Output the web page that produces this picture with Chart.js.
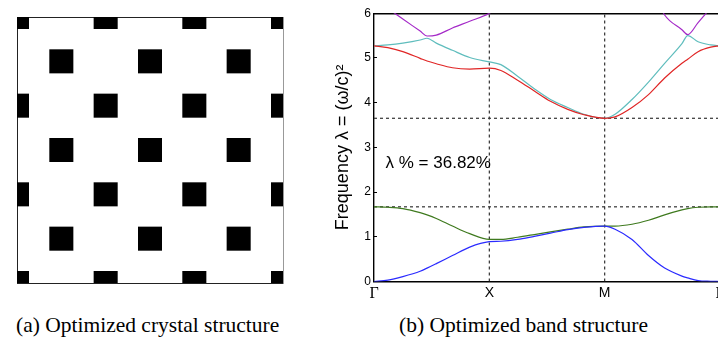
<!DOCTYPE html>
<html lang="en">
<head>
<meta charset="UTF-8">
<title>Optimized crystal and band structure</title>
<script src="https://cdn.jsdelivr.net/npm/chart.js"></script>
<style>
  body {
    margin: 0;
    width: 718px;
    height: 344px;
    overflow: hidden;
    background: #fff;
    position: relative;
  }
  #crystal { position: absolute; left: 0; top: 0; }
  #bands { position: absolute; left: 320px; top: 0; }
  .caption {
    position: absolute;
    top: 315px;
    font-family: 'Liberation Serif', serif;
    font-size: 21.5px;
    line-height: 1;
    color: #000;
    white-space: nowrap;
  }
</style>
</head>
<body>
<canvas id="crystal" width="300" height="300"></canvas>
<canvas id="bands" width="410" height="300"></canvas>
<div class="caption" style="left:16px">(a) Optimized crystal structure</div>
<div class="caption" style="left:399px">(b) Optimized band structure</div>

<script>
  // unit cell grid: square rods on a centred lattice (rows 0..6)
  const rowsY = [0, 1, 2, 3, 4, 5, 6];
  const evenRowCols = [0, 2, 4, 6];
  const oddRowCols = [1, 3, 5];

  // k path Γ - X - M - Γ
  const kPath = [0, 1, 2, 3];
  const kLabels = ['Γ', 'X', 'M', 'Γ'];
  const kSamples = [0, 0.12, 0.25, 0.4, 0.46, 0.54, 0.68, 0.83, 1, 1.1, 1.245, 1.39, 1.53, 1.68, 1.82, 2,
                    2.09, 2.237, 2.38, 2.52, 2.67, 2.72, 2.81, 2.92, 3];

  // eigenvalues λ = (ω/c)^2 for the first five bands
  const band1 = [0, 0.03, 0.11, 0.23, 0.30, 0.40, 0.58, 0.77, 0.89, 0.90, 0.94, 1.01, 1.08, 1.16, 1.21, 1.24,
                 1.17, 0.94, 0.58, 0.30, 0.12, 0.08, 0.02, 0.005, 0];
  const band2 = [1.67, 1.66, 1.63, 1.54, 1.49, 1.41, 1.24, 1.07, 0.94, 0.94, 0.99, 1.05, 1.11, 1.17, 1.22, 1.24,
                 1.24, 1.28, 1.37, 1.49, 1.60, 1.63, 1.66, 1.67, 1.67];
  const band3 = [5.27, 5.23, 5.14, 4.99, 4.93, 4.87, 4.78, 4.75, 4.77, 4.72, 4.50, 4.26, 4.03, 3.85, 3.73, 3.65,
                 3.68, 3.89, 4.18, 4.55, 4.88, 4.97, 5.14, 5.24, 5.27];
  const band4 = [5.27, 5.29, 5.33, 5.40, 5.44, 5.33, 5.17, 5.01, 4.91, 4.85, 4.59, 4.31, 4.07, 3.89, 3.74, 3.65,
                 3.74, 4.07, 4.46, 4.88, 5.32, 5.50, 5.36, 5.29, 5.27];
  const band5 = [6.33, 6.11, 5.87, 5.60, 5.49, 5.51, 5.67, 5.82, 6.00, 6.20, 6.50, 6.80, 7.00, 7.20, 7.30, 7.30,
                 7.25, 7.00, 6.70, 5.96, 5.63, 5.52, 5.79, 6.12, 6.36];
  const bandColors = ['#2b2bff', '#3f7a1f', '#e02525', '#5fbdbd', '#a52bc8'];

  // band gap edges
  const gapTop = 3.65;
  const gapBottom = 1.67;
  const gapText = 'λ % = 36.82%';
  const gapTextAt = [0.1, 2.64];

  const frameAxis = (position, min, max, color) => ({
    type: 'linear', position, min, max,
    ticks: { display: false },
    grid: { display: false },
    border: { color, width: 1 },
    afterFit: s => {
      if (s.isHorizontal()) s.height = 0; else s.width = 0;
    }
  });

  // --- (a) crystal ---
  const rods = rowsY.flatMap(y => (y % 2 === 0 ? evenRowCols : oddRowCols).map(x => ({ x, y })));

  new Chart(document.getElementById('crystal'), {
    type: 'scatter',
    data: {
      datasets: [{
        data: rods,
        pointStyle: 'rect',
        pointRadius: 17,
        pointHoverRadius: 17,
        backgroundColor: '#000',
        borderWidth: 0,
        clip: 0
      }]
    },
    options: {
      responsive: false,
      animation: false,
      events: [],
      layout: { padding: { left: 10.7, top: 8.3, right: 14.3, bottom: 16.7 } },
      plugins: { legend: { display: false }, tooltip: { enabled: false } },
      scales: {
        x: frameAxis('bottom', 0, 6, '#222'),
        y: frameAxis('left', 0, 6, '#222'),
        x2: frameAxis('top', 0, 6, '#222'),
        y2: frameAxis('right', 0, 6, '#999')
      }
    }
  });

  // --- (b) band structure ---
  const bandSet = (values, color) => ({
    data: kSamples.map((k, i) => ({ x: k, y: values[i] })),
    borderColor: color,
    borderWidth: 1.2,
    pointRadius: 0,
    cubicInterpolationMode: 'monotone',
    fill: false
  });

  const dashedSet = (points) => ({
    data: points,
    borderColor: '#333',
    borderWidth: 1.2,
    borderDash: [3, 3],
    pointRadius: 0,
    tension: 0,
    fill: false
  });

  const gapLabel = {
    id: 'gapLabel',
    afterDatasetsDraw(chart) {
      const { ctx, scales: { x, y } } = chart;
      ctx.save();
      ctx.font = '17px "Liberation Sans"';
      ctx.fillStyle = '#000';
      ctx.textBaseline = 'middle';
      ctx.textAlign = 'left';
      ctx.fillText(gapText, x.getPixelForValue(gapTextAt[0]), y.getPixelForValue(gapTextAt[1]));
      ctx.restore();
    }
  };

  const bands = [band1, band2, band3, band4, band5];

  new Chart(document.getElementById('bands'), {
    type: 'line',
    data: {
      datasets: [
        ...bands.map((b, i) => bandSet(b, bandColors[i])),
        dashedSet([{ x: kPath[0], y: gapTop }, { x: kPath[3], y: gapTop }]),
        dashedSet([{ x: kPath[0], y: gapBottom }, { x: kPath[3], y: gapBottom }]),
        dashedSet([{ x: kPath[1], y: 0 }, { x: kPath[1], y: 6 }]),
        dashedSet([{ x: kPath[2], y: 0 }, { x: kPath[2], y: 6 }])
      ]
    },
    options: {
      responsive: false,
      animation: false,
      events: [],
      layout: { padding: { left: 8, top: 9, right: 10, bottom: 0 } },
      plugins: { legend: { display: false }, tooltip: { enabled: false } },
      scales: {
        x: {
          type: 'linear',
          min: 0,
          max: 3,
          afterBuildTicks: s => { s.ticks = kPath.map(v => ({ value: v })); },
          ticks: {
            autoSkip: false,
            maxRotation: 0,
            padding: 3,
            color: '#000',
            callback: (v, i) => kLabels[i],
            font: c => (c.index === 0 || c.index === 3)
              ? { family: 'Liberation Serif', size: 16 }
              : { family: 'Liberation Sans', size: 14 }
          },
          grid: { drawOnChartArea: false, drawTicks: false },
          border: { color: '#000', width: 1.6 },
          afterFit: s => { s.height = 18.5; }
        },
        y: {
          min: 0,
          max: 6,
          ticks: {
            stepSize: 1,
            padding: 6,
            color: '#000',
            font: { family: 'Liberation Sans', size: 12 }
          },
          grid: { drawOnChartArea: false, drawTicks: true, tickLength: -3, color: '#000' },
          border: { color: '#000', width: 1.4 },
          title: {
            display: true,
            text: 'Frequency λ = (ω/c)²',
            color: '#000',
            font: { family: 'Liberation Sans', size: 18 }
          },
          afterFit: s => { s.width = 46; }
        },
        xTop: {
          type: 'linear', position: 'top', min: 0, max: 3,
          ticks: { display: false },
          grid: { display: false },
          border: { color: '#000', width: 1.4 },
          afterFit: s => { s.height = 0; }
        },
        yRight: {
          type: 'linear', position: 'right', min: 0, max: 6,
          ticks: { display: false },
          grid: { display: false },
          border: { color: '#000', width: 1.4 },
          afterFit: s => { s.width = 0; }
        }
      }
    },
    plugins: [gapLabel]
  });
</script>
</body>
</html>
